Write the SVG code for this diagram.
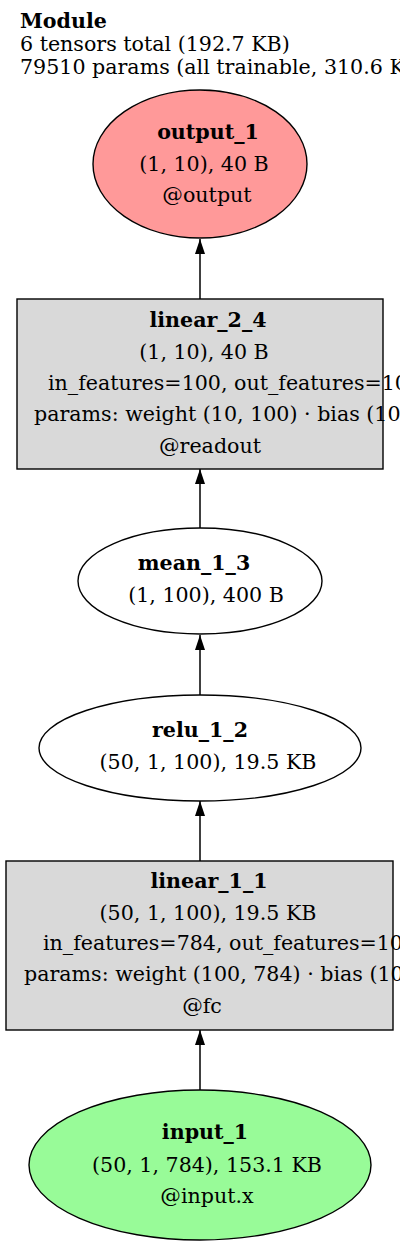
<svg xmlns="http://www.w3.org/2000/svg" width="400" height="1248" viewBox="0 0 400 1248">
<style>
text{font-family:"DejaVu Serif","Liberation Serif",serif;font-size:20.6px;fill:#000}
.b{font-weight:bold}
.m{text-anchor:middle}
.node{stroke:#000;stroke-width:1.4}
.edge{stroke:#000;stroke-width:1.5;fill:none}
</style>
<defs>
<marker id="ah" markerWidth="16" markerHeight="12" refX="15" refY="6" orient="auto" markerUnits="userSpaceOnUse">
<path d="M0,1 L15,6 L0,11 z" fill="#000"/>
</marker>
</defs>
<g id="title">
<text x="20" y="28" class="b">Module</text>
<text x="20" y="51">6 tensors total (192.7 KB)</text>
<text x="20" y="74">79510 params (all trainable, 310.6 KB)</text>
</g>
<g id="connectors">
<line class="edge" x1="200" y1="299" x2="200" y2="239" marker-end="url(#ah)"/>
<line class="edge" x1="200" y1="528" x2="200" y2="469" marker-end="url(#ah)"/>
<line class="edge" x1="200" y1="695" x2="200" y2="635" marker-end="url(#ah)"/>
<line class="edge" x1="200" y1="861" x2="200" y2="801" marker-end="url(#ah)"/>
<line class="edge" x1="200" y1="1090" x2="200" y2="1030" marker-end="url(#ah)"/>
</g>
<g id="output_1">
<ellipse class="node" cx="200" cy="164" rx="107" ry="74" fill="#ff9999"/>
<text x="208" y="139" class="b m">output_1</text>
<text x="204" y="171" class="m">(1, 10), 40 B</text>
<text x="207" y="202" class="m">@output</text>
</g>
<g id="linear_2_4">
<rect class="node" x="17" y="299" width="366" height="170" fill="#d9d9d9"/>
<text x="208" y="327" class="b m">linear_2_4</text>
<text x="204" y="359" class="m">(1, 10), 40 B</text>
<text x="48" y="390">in_features=100, out_features=10</text>
<text x="34" y="421">params: weight (10, 100) · bias (10)</text>
<text x="210" y="453" class="m">@readout</text>
</g>
<g id="mean_1_3">
<ellipse class="node" cx="200" cy="581" rx="122" ry="53" fill="#fff"/>
<text x="194" y="570" class="b m">mean_1_3</text>
<text x="206" y="602" class="m">(1, 100), 400 B</text>
</g>
<g id="relu_1_2">
<ellipse class="node" cx="200" cy="748" rx="161" ry="53" fill="#fff"/>
<text x="200" y="737" class="b m">relu_1_2</text>
<text x="208" y="769" class="m">(50, 1, 100), 19.5 KB</text>
</g>
<g id="linear_1_1">
<rect class="node" x="6" y="861" width="387" height="169" fill="#d9d9d9"/>
<text x="209" y="888" class="b m">linear_1_1</text>
<text x="208" y="920" class="m">(50, 1, 100), 19.5 KB</text>
<text x="43" y="950">in_features=784, out_features=100</text>
<text x="24" y="981">params: weight (100, 784) · bias (100)</text>
<text x="202" y="1013" class="m">@fc</text>
</g>
<g id="input_1">
<ellipse class="node" cx="200" cy="1165" rx="171" ry="75" fill="#98fb98"/>
<text x="205" y="1139" class="b m">input_1</text>
<text x="207" y="1172" class="m">(50, 1, 784), 153.1 KB</text>
<text x="207" y="1203" class="m">@input.x</text>
</g>
</svg>
